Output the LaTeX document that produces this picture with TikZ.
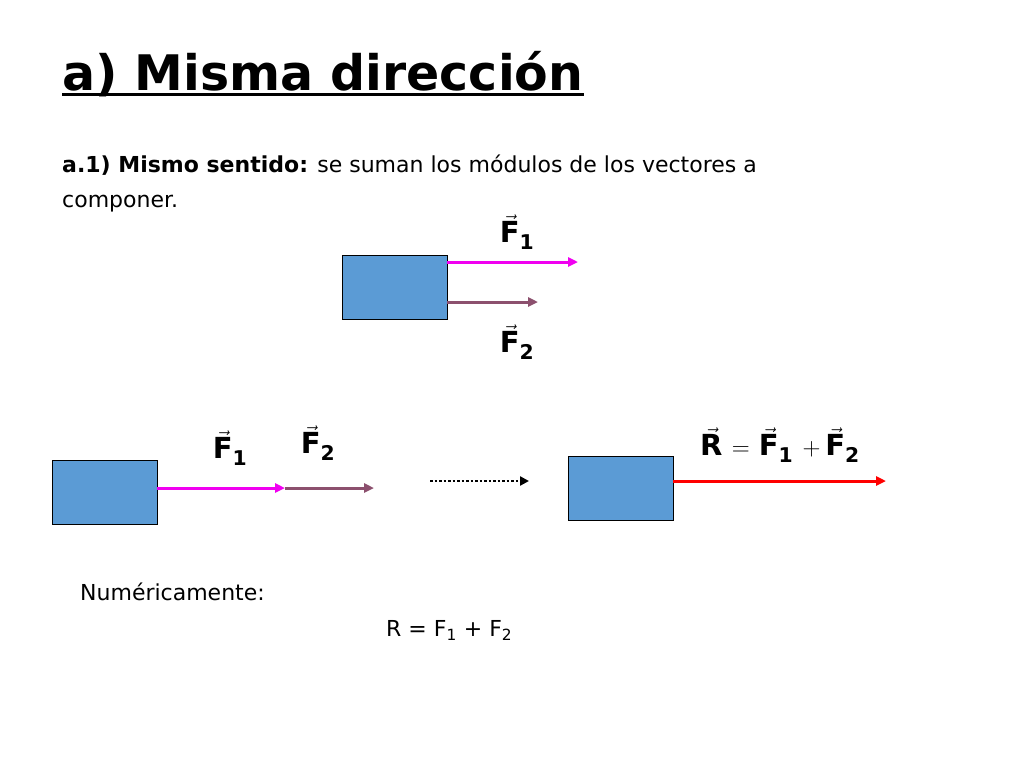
\documentclass[tikz,border=0pt]{standalone}
\usepackage{amsmath}
\usepackage{fontspec}
\setmainfont{DejaVu Sans}
\usepackage{tikz}
\definecolor{boxBlue}{RGB}{91,155,213}
\definecolor{forceMagenta}{RGB}{240,0,240}
\definecolor{forceMauve}{RGB}{140,80,110}
\definecolor{resultRed}{RGB}{255,0,0}
\usetikzlibrary{arrows.meta, positioning}
\newcommand{\vecF}[1]{$\vec{\text{\textbf{F}}}_{\text{\textbf{#1}}}$}
\newcommand{\vecR}{$\vec{\text{\textbf{R}}}$}

\begin{document}
\begin{tikzpicture}[
    x=1pt, y=-1pt,
    body/.style={rectangle, draw=black, fill=boxBlue, minimum width=105pt, minimum height=64pt, inner sep=0pt},
    force/.style={line width=3pt, -{Triangle[length=10pt, width=9pt]}},
    label/.style={font=\fontsize{29}{32}\selectfont, inner sep=0pt},
    txt/.style={font=\fontsize{22}{26}\selectfont, inner sep=0pt, anchor=base west}
]
    \useasboundingbox (0,0) rectangle (1024,768);

    % Title and text
    \node[anchor=base west, inner sep=0pt, font=\fontsize{49}{54}\selectfont\bfseries] (title) at (62,90) {a) Misma dirección};
    \draw[line width=3pt] (title.south west) ++(0,-2) coordinate (ul) -- (ul -| title.east);
    \node[txt] (line1) at (62,172) {\textbf{a.1) Mismo sentido:} se suman los módulos de los vectores a};
    \node[txt] (line2) at (62,207) {componer.};

    % Upper case
    \node[body] (block1) at (394.5,287.5) {};
    \coordinate (f1a) at (447,262);
    \coordinate (f1b) at (578,262);
    \coordinate (f2a) at (447,302);
    \coordinate (f2b) at (538,302);
    \draw[force, forceMagenta] (f1a) -- (f1b);
    \draw[force, forceMauve] (f2a) -- (f2b);
    \node[label] (lf1) at (517,232) {\vecF{1}};
    \node[label] (lf2) at (517,342) {\vecF{2}};

    % Lower left case
    \node[body] (block2) at (104.5,492) {};
    \coordinate (g1b) at (285,488);
    \coordinate (g2b) at (374,488);
    \draw[force, forceMagenta] (block2.east |- g1b) -- (g1b);
    \draw[force, forceMauve] (g1b) -- (g2b);
    \node[label] (lg1) at (230,448) {\vecF{1}};
    \node[label] (lg2) at (318,443) {\vecF{2}};

    % Transition arrow
    \coordinate (da) at (430,481);
    \coordinate (db) at (529,481);
    \draw[line width=2.5pt, dotted, -{Triangle[length=9pt, width=9pt]}] (da) -- (db);

    % Result
    \node[body] (block3) at (620.5,488) {};
    \coordinate (rb) at (886,481);
    \draw[force, resultRed] (block3.east |- rb) -- (rb);
    \node[label, anchor=west] (lr) at (700,445) {\vecR{} $=$ \vecF{1} $+$\,\vecF{2}};

    % Numeric
    \node[txt] (num) at (80,600) {Numéricamente:};
    \node[txt] (eq) at (386,636) {R = F\textsubscript{1} + F\textsubscript{2}};
\end{tikzpicture}
\end{document}
